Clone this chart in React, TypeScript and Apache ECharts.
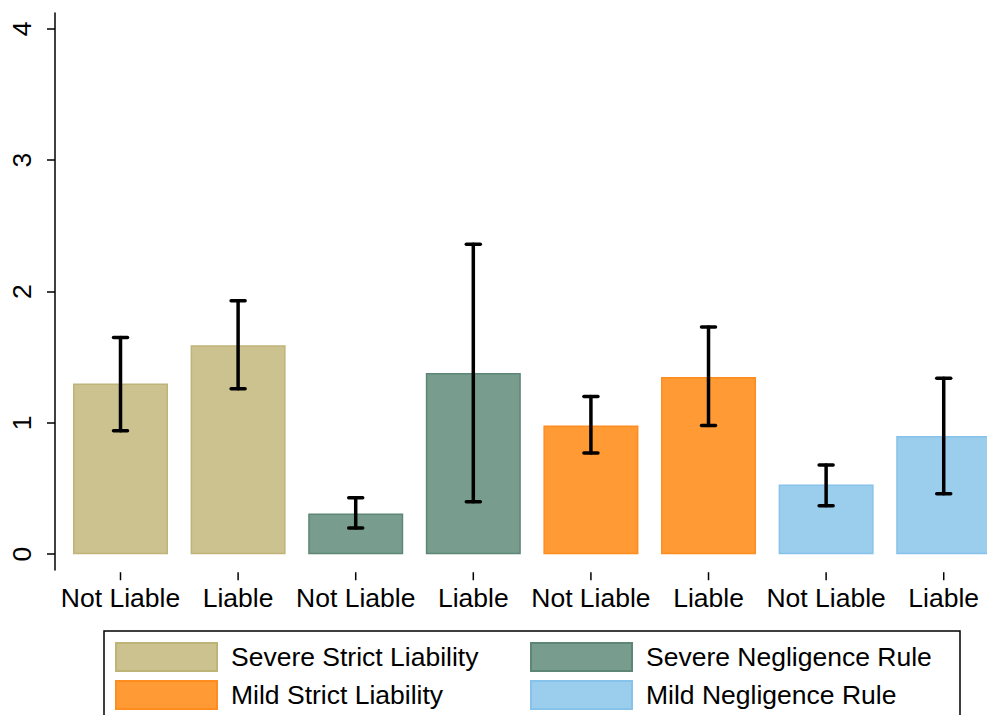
import React, { useEffect, useRef } from "react";
import * as echarts from "echarts";

const categories = ["Not Liable", "Liable", "Not Liable", "Liable", "Not Liable", "Liable", "Not Liable", "Liable"];
const seriesNames = ["Severe Strict Liability", "Severe Negligence Rule", "Mild Strict Liability", "Mild Negligence Rule"];
const means = [1.30, 1.59, 0.31, 1.38, 0.98, 1.35, 0.53, 0.90];
const lowerCI = [0.94, 1.26, 0.20, 0.40, 0.77, 0.98, 0.37, 0.46];
const upperCI = [1.65, 1.93, 0.43, 2.36, 1.20, 1.73, 0.68, 1.34];
const groupOfBar = [0, 0, 1, 1, 2, 2, 3, 3];
const yTicks = [0, 1, 2, 3, 4];
const xPositions = [0, 1, 2, 3, 4, 5, 6, 7];

const fills = ["#CCC28F", "#789D8E", "#FF9A35", "#9BCDEC"];
const borders = ["#BFB478", "#5D8676", "#FF8C1F", "#86C2E9"];

export default function App() {
  const ref = useRef<HTMLDivElement>(null);
  useEffect(() => {
    document.body.style.margin = "0";
    const chart = echarts.init(ref.current!, null, { renderer: "svg" });
    const font = "Liberation Sans";
    const barSeries = seriesNames.map((name, s) => ({
      name,
      type: "bar",
      barWidth: 95,
      barGap: "-100%",
      data: means.map((v, i) => (groupOfBar[i] === s ? [xPositions[i], v] : [xPositions[i], "-"])),
      itemStyle: { color: fills[s], borderColor: borders[s], borderWidth: 1.5 },
      z: 2,
    }));
    const errSeries = {
      type: "custom",
      name: "ci",
      clip: false,
      data: means.map((_, i) => [xPositions[i], lowerCI[i], upperCI[i]]),
      z: 5,
      renderItem: (params: any, api: any) => {
        const x = api.value(0);
        const lo = api.coord([x, api.value(1)]);
        const hi = api.coord([x, api.value(2)]);
        const base = api.coord([x, 0]);
        const half = 7;
        const style = { stroke: "#000", lineWidth: 3.5, lineCap: "round" };
        return {
          type: "group",
          children: [
            { type: "line", shape: { x1: lo[0], y1: lo[1], x2: hi[0], y2: hi[1] }, style },
            { type: "line", shape: { x1: lo[0] - half, y1: lo[1], x2: lo[0] + half, y2: lo[1] }, style },
            { type: "line", shape: { x1: hi[0] - half, y1: hi[1], x2: hi[0] + half, y2: hi[1] }, style },
            {
              type: "line",
              shape: { x1: base[0], y1: base[1] + 18, x2: base[0], y2: base[1] + 26 },
              style: { stroke: "#000", lineWidth: 1.5 },
            },
          ],
        };
      },
    };
    const legendCommon = {
      orient: "vertical",
      top: 642,
      height: 70,
      padding: 0,
      itemWidth: 101,
      itemHeight: 28,
      itemGap: 8,
      icon: "rect",
      selectedMode: false,
      textStyle: { fontFamily: font, fontSize: 26.5, color: "#000", padding: [0, 0, 0, 9] },
    };
    chart.setOption({
      animation: false,
      backgroundColor: "#fff",
      textStyle: { fontFamily: font },
      grid: { left: 55, right: 0, top: 13, bottom: 145, containLabel: false },
      xAxis: {
        type: "value",
        min: -0.557,
        max: 7.368,
        axisLine: { show: false, onZero: false },
        axisTick: { show: false },
        axisLabel: {
          show: true,
          customValues: xPositions,
          formatter: (v: number) => categories[Math.round(v)] ?? "",
          color: "#000",
          fontSize: 26.5,
          fontFamily: font,
          margin: 14,
        },
        splitLine: { show: false },
      },
      yAxis: {
        type: "value",
        min: -0.12,
        max: 4.12,
        axisLine: { show: true, onZero: false, lineStyle: { color: "#000", width: 1.5 } },
        axisTick: { show: true, length: 8, customValues: yTicks, lineStyle: { color: "#000", width: 1.5 } },
        axisLabel: { show: true, customValues: yTicks, rotate: 90, color: "#000", fontSize: 26.5, fontFamily: font, margin: 20 },
        splitLine: { show: false },
      },
      legend: [
        { ...legendCommon, left: 115, data: [seriesNames[0], seriesNames[2]] },
        { ...legendCommon, left: 530, data: [seriesNames[1], seriesNames[3]] },
      ],
      graphic: [
        {
          type: "rect",
          shape: { x: 104, y: 631, width: 856, height: 120 },
          style: { fill: "none", stroke: "#000", lineWidth: 1.5 },
          z: -1,
        },
      ],
      series: [...barSeries, errSeries],
    });
    return () => chart.dispose();
  }, []);
  return <div ref={ref} style={{ width: 987, height: 715 }} />;
}
